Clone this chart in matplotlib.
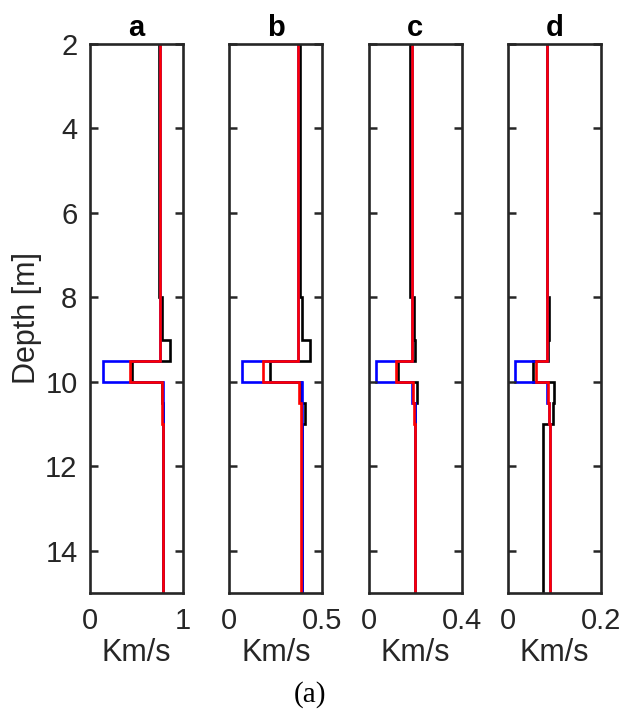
import numpy as np
import matplotlib
matplotlib.use('Agg')
import matplotlib.pyplot as plt

plt.rcParams['font.family'] = ['Liberation Sans', 'DejaVu Sans']

# layer boundaries (depth, m) shared by all profiles
depth_edges = [2, 8, 9, 9.5, 10, 10.5, 11, 15]

panel_titles = ['a', 'b', 'c', 'd']
x_max = [1, 0.5, 0.4, 0.2]
x_tick_labels = ['1', '0.5', '0.4', '0.2']

# initial model (black)
initial_a = [0.74, 0.776, 0.86, 0.452, 0.776, 0.787, 0.79]
initial_b = [0.378, 0.393, 0.432, 0.221, 0.387, 0.407, 0.39]
initial_c = [0.18, 0.194, 0.199, 0.128, 0.209, 0.199, 0.2]
initial_d = [0.085, 0.089, 0.086, 0.054, 0.1, 0.096, 0.075]

# true model (blue)
true_a = [0.75, 0.75, 0.75, 0.138, 0.79, 0.79, 0.79]
true_b = [0.372, 0.372, 0.372, 0.07, 0.39, 0.39, 0.393]
true_c = [0.186, 0.186, 0.186, 0.033, 0.186, 0.198, 0.2]
true_d = [0.085, 0.085, 0.085, 0.015, 0.084, 0.088, 0.09]

# inverted model (red)
inverted_a = [0.75, 0.757, 0.757, 0.435, 0.776, 0.776, 0.79]
inverted_b = [0.371, 0.371, 0.371, 0.18, 0.375, 0.384, 0.388]
inverted_c = [0.185, 0.187, 0.187, 0.118, 0.19, 0.196, 0.198]
inverted_d = [0.085, 0.085, 0.085, 0.061, 0.087, 0.089, 0.09]

initial = [initial_a, initial_b, initial_c, initial_d]
true_model = [true_a, true_b, true_c, true_d]
inverted = [inverted_a, inverted_b, inverted_c, inverted_d]

fig = plt.figure(figsize=(6.2, 7.27), dpi=100)

ink = '#262626'
left0 = 90 / 620
step = 139.3 / 620
width = 93 / 620
bottom = 1 - 593 / 727
height = (593 - 44) / 727

for i in range(4):
    ax = fig.add_axes([left0 + i * step, bottom, width, height])
    ax.stairs(initial[i], depth_edges, orientation='horizontal', baseline=None,
              color='black', lw=1.9)
    ax.stairs(true_model[i], depth_edges, orientation='horizontal', baseline=None,
              color='blue', lw=1.9)
    ax.stairs(inverted[i], depth_edges, orientation='horizontal', baseline=None,
              color='red', lw=1.9)

    ax.set_xlim(0, x_max[i])
    ax.set_ylim(15, 2)
    ax.set_xticks([0, x_max[i]])
    ax.set_xticklabels(['0', x_tick_labels[i]])
    ax.set_yticks(np.arange(2, 15, 2))
    ax.tick_params(direction='in', length=6, width=1.8, colors=ink,
                   labelsize=21, right=True, top=False, pad=9)
    ax.tick_params(axis='x', length=0, pad=10)
    if i == 0:
        ax.set_ylabel('Depth [m]', fontsize=22, color=ink, labelpad=2)
    else:
        ax.tick_params(labelleft=False)
    ax.set_xlabel('Km/s', fontsize=22, color=ink, labelpad=2)
    ax.set_title(panel_titles[i], fontsize=21, fontweight='bold', pad=6)
    for s in ax.spines.values():
        s.set_color(ink)
        s.set_linewidth(1.9)

fig.text(0.5, 1 - 695 / 727, '(a)', ha='center', va='center', fontsize=21,
         family='Liberation Serif')

fig.savefig('out.png', dpi=100)
